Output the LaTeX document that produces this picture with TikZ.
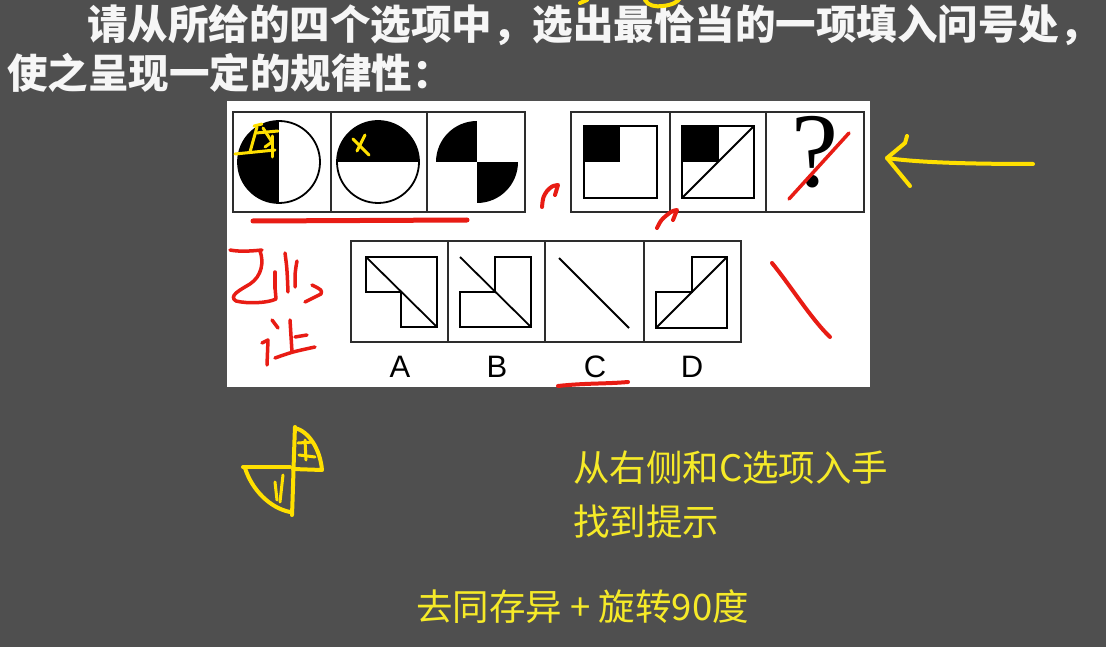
\documentclass[tikz,border=0pt]{standalone}
\usepackage{fontspec}
\setmainfont{Liberation Sans}
\newfontfamily\cjk{Noto Sans CJK SC}
\newfontfamily\serifq{Liberation Serif}
\definecolor{bg}{RGB}{79,79,79}
\definecolor{boxline}{RGB}{45,45,45}
\definecolor{redpen}{RGB}{232,28,20}
\definecolor{yelpen}{RGB}{255,224,0}
\definecolor{yeltext}{RGB}{246,234,40}
\definecolor{titlecol}{RGB}{246,246,246}
\tikzset{
  panel/.style={fill=white, draw=none},
  cellbox/.style={draw=boxline, line width=2pt},
  figline/.style={draw=black, line width=1.8pt, line join=miter},
  redstroke/.style={draw=redpen, line width=4pt, line cap=round, line join=round},
  yelstroke/.style={draw=yelpen, line width=4pt, line cap=round, line join=round},
  title/.style={anchor=west, inner sep=0pt, text=titlecol, font=\cjk\bfseries\fontsize{40.5}{48}\selectfont},
  note/.style={anchor=west, inner sep=0pt, text=yeltext, font=\cjk\fontsize{36.5}{42}\selectfont},
  optlabel/.style={inner sep=0pt, text=black, font=\fontsize{31}{34}\selectfont}
}
\begin{document}
\begin{tikzpicture}[x=1pt,y=-1pt]
\useasboundingbox[fill=bg] (0,0) rectangle (1106,647);

% title
\node[title] (t1) at (87,25) {请从所给的四个选项中，选出最恰当的一项填入问号处，};
\node[title] (t2) at (7,73) {使之呈现一定的规律性：};

% white panel
\fill[panel] (227,101) rectangle (870,387);

% ---- upper left group: circles
\draw[cellbox] (233,112) rectangle (525,212);
\draw[cellbox] (331,112) -- (331,212);
\draw[cellbox] (427,112) -- (427,212);
\begin{scope}
  \clip (279,162) circle[radius=41pt];
  \fill[black] (236,119) rectangle (279,205);
\end{scope}
\draw[black, line width=1.8pt] (279,162) circle[radius=41pt];
\begin{scope}
  \clip (378,162) circle[radius=41pt];
  \fill[black] (335,119) rectangle (421,162);
\end{scope}
\draw[black, line width=1.8pt] (378,162) circle[radius=41pt];
\begin{scope}
  \clip (477,162) circle[radius=41pt];
  \fill[black] (434,119) rectangle (477,162);
  \fill[black] (477,162) rectangle (520,205);
\end{scope}

% ---- upper right group
\draw[cellbox] (571,112) rectangle (864,212);
\draw[cellbox] (670,112) -- (670,212);
\draw[cellbox] (766,112) -- (766,212);
\fill[black] (584,126) rectangle (620,162);
\draw[figline] (584,126) rectangle (657,198);
\fill[black] (682,126) rectangle (719,162);
\draw[figline] (682,126) rectangle (754,198);
\draw[figline] (682,198) -- (754,126);
\node[inner sep=0pt, font=\serifq\fontsize{106}{106}\selectfont] (qm) at (815,152) {?};

% ---- lower options
\draw[cellbox] (351,241) rectangle (741,342);
\draw[cellbox] (448,241) -- (448,342);
\draw[cellbox] (545,241) -- (545,342);
\draw[cellbox] (644,241) -- (644,342);
% A
\draw[figline] (366,257) -- (437,257) -- (437,327) -- (401,327) -- (401,292) -- (366,292) -- cycle;
\draw[figline] (366,257) -- (437,327);
% B
\draw[figline] (495,257) -- (531,257) -- (531,327) -- (460,327) -- (460,292) -- (495,292) -- cycle;
\draw[figline] (460,257) -- (531,327);
% C
\draw[figline] (559,258) -- (629,328);
% D
\draw[figline] (692,257) -- (727,257) -- (727,328) -- (656,328) -- (656,292) -- (692,292) -- cycle;
\draw[figline] (656,328) -- (727,257);

\node[optlabel] (la) at (400,367) {A};
\node[optlabel] (lb) at (497,367) {B};
\node[optlabel] (lc) at (595,367) {C};
\node[optlabel] (ld) at (692,367) {D};

% ---- red pen marks
\draw[redstroke, line width=5pt] (253,221) -- (467,220);
\draw[redstroke] (542,207) .. controls (543,197) .. (547,191) .. controls (552,186) .. (558,185) -- (555,195);
\draw[redstroke] (657,228) .. controls (661,220) .. (667,215) .. controls (672,211) .. (677,210) -- (673,220);
\draw[redstroke, line width=3.5pt] (789,199) -- (849,133);
\draw[redstroke] (772,263) .. controls (790,285) and (812,320) .. (830,337);
\draw[redstroke] (558,386) .. controls (585,383) and (605,384) .. (628,382);
% handwriting
\draw[redstroke, line width=3.5pt] (230,250) .. controls (240,252) and (252,251) .. (262,250);
\draw[redstroke, line width=3.5pt] (260,251) .. controls (264,262) and (262,276) .. (250,284) .. controls (240,290) and (228,296) .. (236,301) .. controls (248,304) and (268,303) .. (276,299) -- (275,287);
\draw[redstroke, line width=3.5pt] (275,272) -- (275,288);
\draw[redstroke, line width=3.5pt] (285,253) .. controls (287,268) .. (288,292);
\draw[redstroke, line width=3.5pt] (297,261) .. controls (295,272) .. (295,287);
\draw[redstroke, line width=3.5pt] (312,285) .. controls (322,290) .. (321,294) -- (305,302);
\draw[redstroke, line width=3.5pt] (272,320) -- (278,328);
\draw[redstroke, line width=3.5pt] (262,343) -- (268,340) -- (267,365);
\draw[redstroke, line width=3.5pt] (290,320) -- (292,352);
\draw[redstroke, line width=3.5pt] (295,337) -- (307,335);
\draw[redstroke, line width=3.5pt] (275,358) .. controls (292,352) .. (315,347);

% ---- yellow pen marks
% on circle 1
\draw[yelstroke, line width=3pt] (235,154) -- (275,150);
\draw[yelstroke, line width=3pt] (257,127) -- (250,152);
\draw[yelstroke, line width=3pt] (256,133) -- (278,131);
\draw[yelstroke, line width=3pt] (263,128) -- (272,142) -- (265,147);
\draw[yelstroke, line width=3pt] (272,136) -- (272,157);
\draw[yelstroke, line width=3pt] (254,126) -- (262,124);
% x on circle 2
\draw[yelstroke, line width=3pt] (353,139) -- (369,155);
\draw[yelstroke, line width=3pt] (365,135) -- (357,151);
% top scribble
\draw[yelstroke] (580,3) -- (587,0);
\draw[yelstroke] (645,0) .. controls (648,6) and (656,7) .. (663,6) .. controls (672,5) and (678,2) .. (680,-2);
% arrow
\draw[yelstroke] (1033,164) .. controls (980,164) and (920,163) .. (887,158);
\draw[yelstroke] (907,136) -- (905,143) -- (887,158) -- (910,186);
% quarter sketch
\draw[yelstroke] (295,427) .. controls (294,450) and (293,490) .. (292,515);
\draw[yelstroke] (295,428) .. controls (308,431) and (320,448) .. (322,470) -- (293,469);
\draw[yelstroke, line width=3pt] (298,443) -- (313,442);
\draw[yelstroke, line width=3pt] (305,440) -- (306,460);
\draw[yelstroke, line width=3pt] (299,455) -- (315,457);
\draw[yelstroke] (243,467) -- (290,467);
\draw[yelstroke] (245,468) .. controls (252,490) and (270,508) .. (290,512);
\draw[yelstroke, line width=3pt] (275,482) -- (277,500);
\draw[yelstroke, line width=3pt] (283,475) -- (280,502);

% ---- notes
\node[note] (n1) at (573,468) {从右侧和C选项入手};
\node[note] (n2) at (573,522) {找到提示};
\node[note] (n3) at (416,607) {去同存异 + 旋转90度};
\end{tikzpicture}
\end{document}
